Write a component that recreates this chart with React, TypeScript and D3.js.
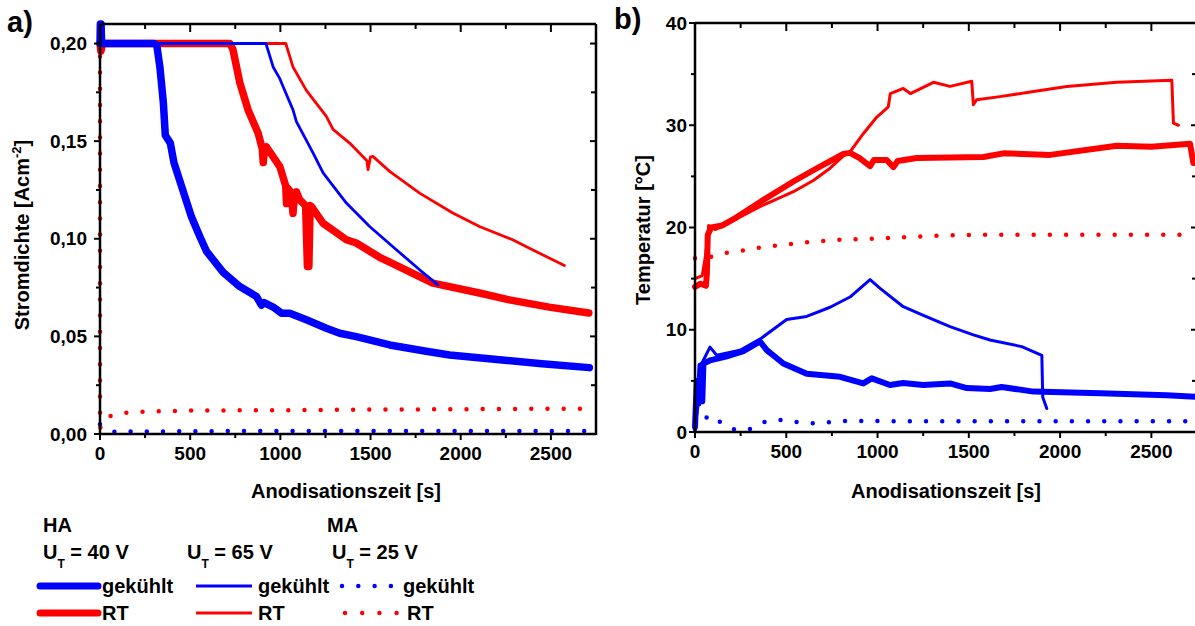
import React from "react";
import * as d3 from "d3";

// ---- data: [time s, value] ----
// a) current density [A/cm2]
const aHA40cool: [number, number][] = [
  [0, 0.2], [2, 0.21], [6, 0.21], [9, 0.2], [300, 0.2], [315, 0.199], [332, 0.188], [351, 0.17],
  [362, 0.153], [390, 0.149], [410, 0.139], [452, 0.127], [508, 0.111], [554, 0.101],
  [591, 0.0935], [683, 0.0828], [775, 0.0755], [868, 0.0704], [895, 0.066], [910, 0.0673],
  [960, 0.065], [1006, 0.0619], [1052, 0.0619], [1144, 0.0585], [1255, 0.0542], [1329, 0.0516],
  [1421, 0.0499], [1606, 0.0456], [1800, 0.0425], [1938, 0.0405], [2215, 0.038], [2450, 0.036],
  [2713, 0.034],
];
const aHA40rt: [number, number][] = [
  [0, 0.2], [5, 0.196], [12, 0.199], [20, 0.2], [720, 0.2], [737, 0.197], [775, 0.18], [821, 0.166],
  [877, 0.154], [900, 0.146], [905, 0.139], [912, 0.146], [923, 0.147], [997, 0.137], [1030, 0.127],
  [1034, 0.118], [1040, 0.126], [1061, 0.1235], [1070, 0.113], [1078, 0.122], [1089, 0.124],
  [1107, 0.12], [1140, 0.117], [1150, 0.0858], [1158, 0.0858], [1165, 0.117], [1172, 0.1166],
  [1236, 0.108], [1366, 0.0995], [1421, 0.0978], [1550, 0.0905], [1606, 0.088], [1845, 0.0773],
  [2104, 0.0722], [2270, 0.0687], [2490, 0.065], [2710, 0.062],
];
const aHA65cool: [number, number][] = [
  [0, 0.2], [920, 0.2], [960, 0.188], [997, 0.182], [1015, 0.178], [1070, 0.166], [1089, 0.16],
  [1181, 0.144], [1237, 0.1337], [1366, 0.1183], [1495, 0.1063], [1643, 0.0944], [1772, 0.0841],
  [1873, 0.0764],
];
const aHA65rt: [number, number][] = [
  [0, 0.2], [1030, 0.2], [1070, 0.188], [1144, 0.176], [1255, 0.1627], [1292, 0.156], [1384, 0.149],
  [1480, 0.14], [1486, 0.1354], [1500, 0.142], [1513, 0.1422], [1606, 0.1345], [1772, 0.1234],
  [1956, 0.1132], [2104, 0.1063], [2288, 0.0995], [2381, 0.0952], [2473, 0.0909], [2575, 0.0863],
];
const aMA25cool: [number, number][] = [
  [0, 0.005], [80, 0.0012], [700, 0.0015], [2700, 0.0015],
];
const aMA25rt: [number, number][] = [
  [0, 0.21], [0, 0.003], [32, 0.0084], [109, 0.0106], [250, 0.0115], [500, 0.012], [1000, 0.0122],
  [1500, 0.0125], [2000, 0.0127], [2690, 0.013],
];

// b) temperature [°C]
const bHA40cool: [number, number][] = [
  [0, 0.5], [10, 5], [20, 2.8], [30, 6.5], [40, 3], [46, 6.7], [82, 7.0], [174, 7.4], [265, 7.9],
  [356, 8.85], [393, 8.0], [484, 6.7], [612, 5.7], [795, 5.4], [922, 4.75], [968, 5.25], [1068, 4.6],
  [1140, 4.8], [1250, 4.6], [1397, 4.75], [1489, 4.3], [1616, 4.2], [1680, 4.4], [1854, 3.95],
  [2219, 3.8], [2585, 3.6], [2740, 3.45],
];
const bHA40rt: [number, number][] = [
  [0, 14.2], [30, 14.5], [60, 14.3], [65, 15.5], [70, 19.3], [90, 20.0], [150, 20.2], [228, 21.0],
  [374, 22.7], [539, 24.5], [648, 25.6], [740, 26.5], [813, 27.2], [849, 27.3], [900, 26.8],
  [959, 26.0], [980, 26.6], [1050, 26.6], [1087, 25.9], [1110, 26.5], [1215, 26.8], [1580, 26.9],
  [1689, 27.25], [1945, 27.1], [2311, 28.0], [2500, 27.9], [2712, 28.2], [2730, 26.3],
];
const bHA65cool: [number, number][] = [
  [0, 0.5], [20, 3], [37, 6.7], [82, 8.3], [119, 7.5], [247, 8.0], [365, 9.2], [502, 11.0],
  [612, 11.3], [740, 12.2], [849, 13.2], [959, 14.9], [1014, 14.05], [1141, 12.25], [1251, 11.4],
  [1397, 10.3], [1525, 9.5], [1616, 9.0], [1790, 8.35], [1900, 7.5], [1905, 3.4], [1927, 2.3],
];
const bHA65rt: [number, number][] = [
  [0, 15.0], [40, 15.3], [60, 17.5], [75, 20.2], [110, 19.8], [200, 20.6], [374, 22.2], [539, 23.5],
  [648, 24.6], [740, 25.8], [813, 27.0], [849, 27.4], [923, 29.2], [996, 30.8], [1059, 31.8],
  [1070, 33.1], [1141, 33.6], [1180, 33.1], [1306, 34.2], [1397, 33.8], [1516, 34.3], [1525, 32.0],
  [1543, 32.5], [1671, 32.8], [1854, 33.3], [2037, 33.8], [2311, 34.2], [2612, 34.4], [2621, 30.2],
  [2648, 30.0],
];
const bMA25cool: [number, number][] = [
  [0, 0.3], [78, 1.66], [146, 0.9], [210, 0.26], [292, 0.2], [374, 0.95], [462, 1.2], [550, 1.0],
  [645, 0.85], [735, 0.95], [822, 1.08], [1200, 1.05], [2740, 1.05],
];
const bMA25rt: [number, number][] = [
  [0, 17.0], [82, 17.1], [164, 17.5], [247, 17.7], [338, 18.0], [429, 18.2], [603, 18.55],
  [785, 18.8], [959, 18.9], [1315, 19.2], [1589, 19.3], [2700, 19.3],
];

const xMajor = [0, 500, 1000, 1500, 2000, 2500];
const xMinor = [250, 750, 1250, 1750, 2250, 2750];
const aYMajor = [0, 0.05, 0.1, 0.15, 0.2];
const aYMinor = [0.025, 0.075, 0.125, 0.175];
const bYMajor = [0, 10, 20, 30, 40];
const bYMinor = [5, 15, 25, 35];

const BLUE = "#0000ff";
const RED = "#ff0000";
const FONT = "'Liberation Sans', Arial, sans-serif";
const DOTS = "0 16.2";

const de = d3.formatLocale({ decimal: ",", thousands: ".", grouping: [3], currency: ["", " €"] });
const fmtA = de.format(".2f");
const fmtB = d3.format("d");

type Series = { data: [number, number][]; color: string; w: number; dotted?: boolean };

function Panel(props: {
  x: d3.ScaleLinear<number, number>;
  y: d3.ScaleLinear<number, number>;
  yMajor: number[];
  yMinor: number[];
  fmt: (v: number) => string;
  labelGap: number;
  series: Series[];
}) {
  const { x, y, yMajor, yMinor, fmt, labelGap, series } = props;
  const [x0, x1] = x.range();
  const [y0, y1] = y.range();
  const line = d3
    .line<[number, number]>()
    .x((d) => x(d[0]))
    .y((d) => y(d[1]));
  const sw = 2.5;
  return (
    <g>
      {series.map((s, i) => (
        <path
          key={i}
          d={line(s.data) || ""}
          fill="none"
          stroke={s.color}
          strokeWidth={s.w}
          strokeLinejoin="round"
          strokeLinecap="round"
          strokeDasharray={s.dotted ? DOTS : undefined}
        />
      ))}
      {/* frame */}
      <line x1={x0} x2={x1} y1={y0} y2={y0} stroke="#000" strokeWidth={sw} />
      <line x1={x0} x2={x1} y1={y1} y2={y1} stroke="#000" strokeWidth={sw} />
      <line x1={x0} x2={x0} y1={y0 + 1} y2={y1} stroke="#000" strokeWidth={sw} />
      <line x1={x1} x2={x1} y1={y0 + 1} y2={y1} stroke="#000" strokeWidth={sw} />
      {/* x ticks: bottom outward, top inward */}
      {xMajor.map((t) => (
        <g key={"xM" + t}>
          <line x1={x(t)} x2={x(t)} y1={y0} y2={y0 + 6} stroke="#000" strokeWidth={2} />
          <line x1={x(t)} x2={x(t)} y1={y1} y2={y1 + 8} stroke="#000" strokeWidth={2} />
          <text x={x(t)} y={y0 + 26} textAnchor="middle" fontSize={19} fontWeight="bold" fontFamily={FONT}>
            {t}
          </text>
        </g>
      ))}
      {xMinor
        .filter((t) => x(t) < x1 - 1)
        .map((t) => (
          <g key={"xm" + t}>
            <line x1={x(t)} x2={x(t)} y1={y0} y2={y0 + 4} stroke="#000" strokeWidth={2} />
            <line x1={x(t)} x2={x(t)} y1={y1} y2={y1 + 5} stroke="#000" strokeWidth={2} />
          </g>
        ))}
      {/* y ticks: left outward, right inward */}
      {yMajor.map((t) => (
        <g key={"yM" + t}>
          <line x1={x0 - 6} x2={x0} y1={y(t)} y2={y(t)} stroke="#000" strokeWidth={2} />
          <line x1={x1 - 6} x2={x1} y1={y(t)} y2={y(t)} stroke="#000" strokeWidth={2} />
          <text
            x={x0 - labelGap}
            y={y(t)}
            dy="0.35em"
            textAnchor="end"
            fontSize={19}
            fontWeight="bold"
            fontFamily={FONT}
          >
            {fmt(t)}
          </text>
        </g>
      ))}
      {yMinor.map((t) => (
        <g key={"ym" + t}>
          <line x1={x0 - 4} x2={x0} y1={y(t)} y2={y(t)} stroke="#000" strokeWidth={2} />
          <line x1={x1 - 5} x2={x1} y1={y(t)} y2={y(t)} stroke="#000" strokeWidth={2} />
        </g>
      ))}
    </g>
  );
}

export default function App() {
  const xA = d3.scaleLinear().domain([0, 2750]).range([100, 596]);
  const yA = d3.scaleLinear().domain([0, 0.21]).range([434, 24]);
  const xB = d3.scaleLinear().domain([0, 2750]).range([695, 1197]);
  const yB = d3.scaleLinear().domain([0, 40]).range([432, 23]);

  const seriesA: Series[] = [
    { data: aMA25cool, color: BLUE, w: 4.5, dotted: true },
    { data: aMA25rt, color: RED, w: 4.5, dotted: true },
    { data: aHA65rt, color: RED, w: 2.8 },
    { data: aHA40rt, color: RED, w: 7.5 },
    { data: aHA65cool, color: BLUE, w: 2.8 },
    { data: aHA40cool, color: BLUE, w: 7.5 },
  ];
  const seriesB: Series[] = [
    { data: bMA25cool, color: BLUE, w: 4.5, dotted: true },
    { data: bMA25rt, color: RED, w: 4.5, dotted: true },
    { data: bHA40rt, color: RED, w: 6 },
    { data: bHA65rt, color: RED, w: 3 },
    { data: bHA40cool, color: BLUE, w: 6 },
    { data: bHA65cool, color: BLUE, w: 3 },
  ];

  const txt = { fontFamily: FONT, fontWeight: "bold" as const, fill: "#000" };

  return (
    <svg
      width={1195}
      height={626}
      style={{ position: "absolute", left: 0, top: 0, background: "#fff" }}
    >
      <Panel x={xA} y={yA} yMajor={aYMajor} yMinor={aYMinor} fmt={fmtA} labelGap={13} series={seriesA} />
      <Panel x={xB} y={yB} yMajor={bYMajor} yMinor={bYMinor} fmt={fmtB} labelGap={8} series={seriesB} />

      {/* panel letters */}
      <text x={7} y={32} fontSize={29} {...txt}>a)</text>
      <text x={614} y={29} fontSize={29} {...txt}>b)</text>

      {/* axis titles */}
      <text x={346} y={498} fontSize={20} textAnchor="middle" {...txt}>Anodisationszeit [s]</text>
      <text x={946} y={498} fontSize={20} textAnchor="middle" {...txt}>Anodisationszeit [s]</text>
      <text transform="translate(29,235) rotate(-90)" fontSize={20} textAnchor="middle" {...txt}>
        Stromdichte [Acm<tspan dy={-8} fontSize={13}>-2</tspan>
        <tspan dy={8}>]</tspan>
      </text>
      <text transform="translate(650,230) rotate(-90)" fontSize={20} textAnchor="middle" {...txt}>
        Temperatur [°C]
      </text>

      {/* legend */}
      <text x={43} y={532} fontSize={20} {...txt}>HA</text>
      <text x={327} y={532} fontSize={20} {...txt}>MA</text>
      {[
        { x: 43, v: "40" },
        { x: 187, v: "65" },
        { x: 332, v: "25" },
      ].map((u) => (
        <text key={u.v} x={u.x} y={559} fontSize={20} {...txt}>
          U<tspan dy={9} fontSize={12}>T</tspan>
          <tspan dy={-9}>{` = ${u.v} V`}</tspan>
        </text>
      ))}
      {[
        { y: 586, color: BLUE, label: "gekühlt" },
        { y: 613, color: RED, label: "RT" },
      ].map((r) => (
        <g key={r.label}>
          <line x1={40} x2={98} y1={r.y} y2={r.y} stroke={r.color} strokeWidth={7} strokeLinecap="round" />
          <text x={102} y={r.y + 7} fontSize={20} {...txt}>{r.label}</text>
          <line x1={196} x2={252} y1={r.y} y2={r.y} stroke={r.color} strokeWidth={2.8} />
          <text x={258} y={r.y + 7} fontSize={20} {...txt}>{r.label}</text>
          <line
            x1={r.label === "RT" ? 345 : 342}
            x2={r.label === "RT" ? 398 : 393}
            y1={r.y}
            y2={r.y}
            stroke={r.color}
            strokeWidth={4.5}
            strokeLinecap="round"
            strokeDasharray={r.label === "RT" ? "0 17.2" : "0 16.3"}
          />
          <text x={r.label === "RT" ? 407 : 403} y={r.y + 7} fontSize={20} {...txt}>{r.label}</text>
        </g>
      ))}
    </svg>
  );
}
